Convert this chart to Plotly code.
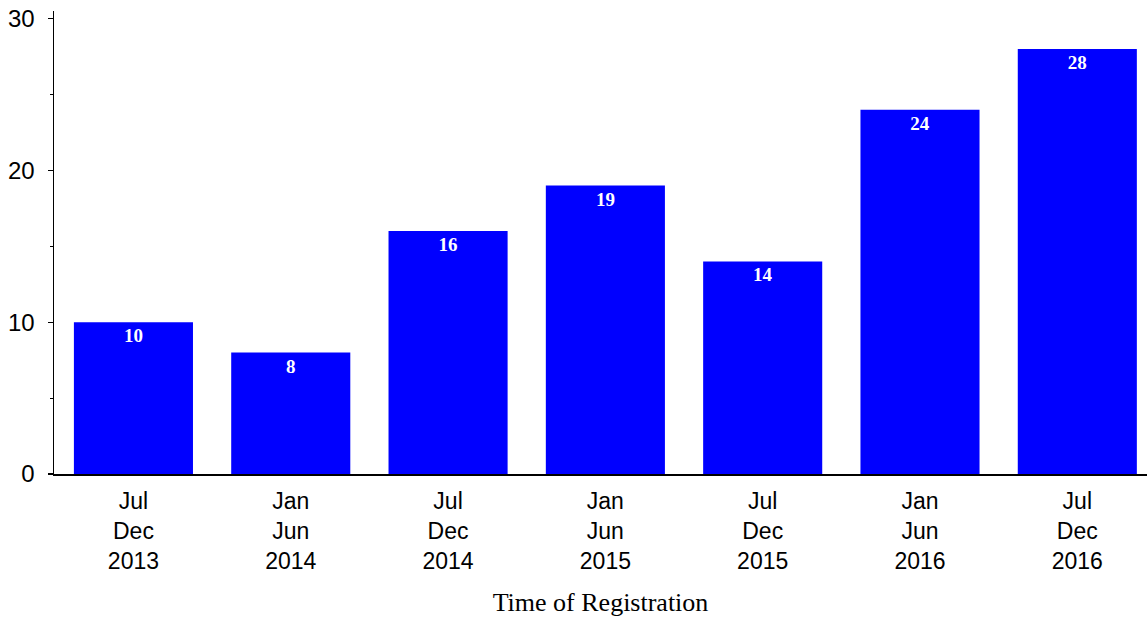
import plotly.graph_objects as go

categories = ["Jul<br>Dec<br>2013", "Jan<br>Jun<br>2014", "Jul<br>Dec<br>2014",
              "Jan<br>Jun<br>2015", "Jul<br>Dec<br>2015", "Jan<br>Jun<br>2016",
              "Jul<br>Dec<br>2016"]
counts = [10, 8, 16, 19, 14, 24, 28]
y_ticks = [0, 10, 20, 30]

fig = go.Figure()
fig.add_trace(go.Bar(
    x=categories, y=counts,
    marker=dict(color="#0000FF", line=dict(width=0)),
    text=[str(v) for v in counts],
    textposition="inside", insidetextanchor="end",
    textangle=0,
    textfont=dict(family="Liberation Serif", size=19, color="white", weight="bold"),
    hoverinfo="skip",
))

fig.update_layout(
    width=1147, height=617,
    margin=dict(l=54, r=0, t=11, b=143, autoexpand=False),
    plot_bgcolor="white", paper_bgcolor="white",
    bargap=0.243,
    showlegend=False,
    xaxis=dict(
        type="category", automargin=False,
        range=[-0.505, 6.443],
        showline=True, linecolor="black", linewidth=1.5,
        ticks="", showgrid=False, zeroline=False,
        tickfont=dict(family="Liberation Sans", size=23, color="black"),
        ticklabelstandoff=6,
        title=dict(text="Time of Registration",
                   font=dict(family="Liberation Serif", size=26, color="black"),
                   standoff=20),
    ),
    yaxis=dict(
        range=[0, 30.5], autorange=False, automargin=False,
        showline=True, linecolor="black", linewidth=1.5,
        ticks="outside", ticklen=5, tickwidth=1.2, tickcolor="black",
        tickvals=y_ticks,
        showgrid=False, zeroline=False,
        minor=dict(tickvals=[5, 15, 25], ticks="outside", ticklen=3, tickwidth=1.2, tickcolor="black"),
        tickfont=dict(family="Liberation Sans", size=24, color="black"),
        ticklabelstandoff=8,
    ),
)

fig.write_html(
    "out.html",
    config={"displayModeBar": False, "staticPlot": True},
    post_script="document.body.style.margin='0';document.body.style.overflow='hidden';",
)
